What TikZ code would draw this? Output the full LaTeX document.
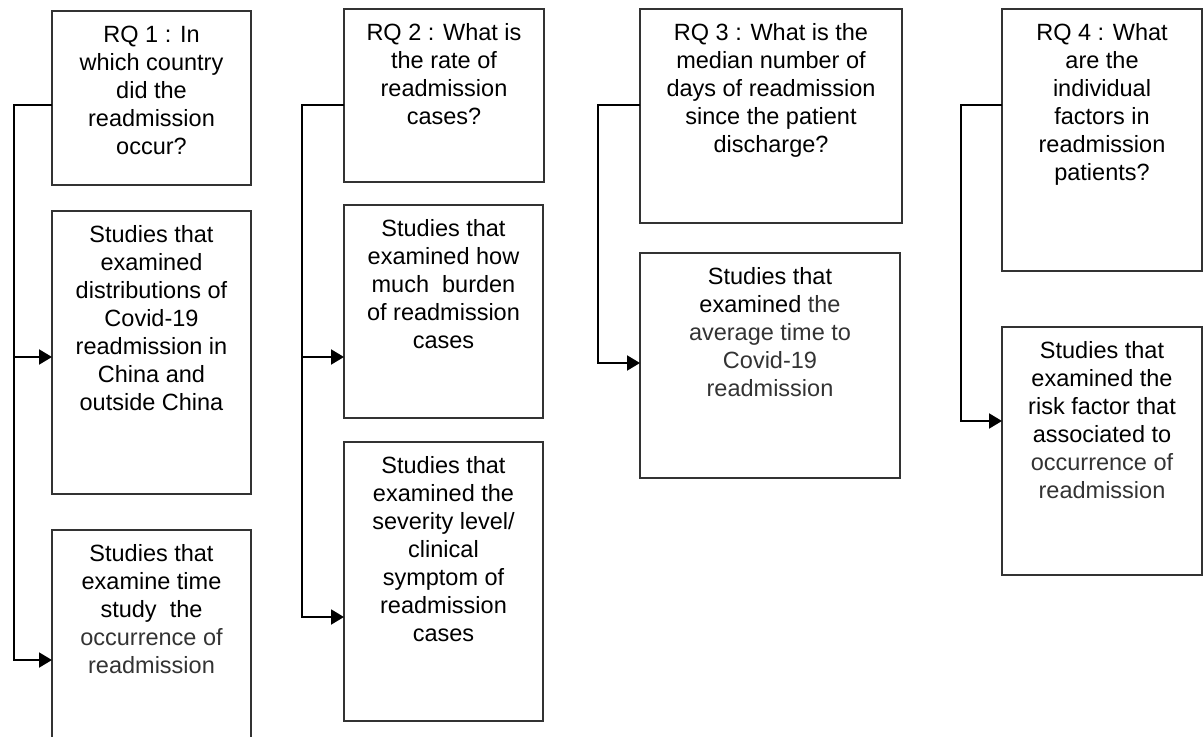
\documentclass[tikz,border=0pt]{standalone}
\usepackage{fontspec}
\setmainfont{Liberation Sans}
\usetikzlibrary{arrows.meta,positioning,calc}
\newcommand{\boxtext}[3]{\parbox[t][#2][t]{#1}{\centering\rule{0pt}{15.75pt}#3}}
\colorlet{softink}{black!80}
\tikzset{
  question/.style={rectangle, draw=black!80, line width=0.75pt, inner sep=0pt,
    outer sep=0pt, font=\fontsize{11.75}{14}\selectfont},
  study/.style={question},
  toarr/.style={-{Triangle[length=6.5pt,width=7.5pt]}, line width=1pt}
}

\begin{document}
\begin{tikzpicture}[x=0.5pt,y=-0.5pt]

\useasboundingbox (0,0) rectangle (1204,736);

%RQ 1
\node[question, anchor=north west](rq1) at (52,11) {
  \boxtext{99.5pt}{87pt}{RQ 1 : In\\ which country\\ did the\\ readmission\\ occur?}
};

\node[study, below right=13pt and 0pt of rq1.south west](st1a) {
  \boxtext{99.5pt}{141.5pt}{Studies that\\ examined\\ distributions of\\ Covid-19\\ readmission in\\ China and\\ outside China}
};

\node[study, below right=18pt and 0pt of st1a.south west](st1b) {
  \boxtext{99.5pt}{110pt}{Studies that\\ examine time\\ study\ \ the\\ \textcolor{softink}{occurrence of}\\ \textcolor{softink}{readmission}}
};

\draw[toarr] ([yshift=-47pt]rq1.north west) -- ++(-38,0) coordinate (j1)
  |- ([yshift=-73pt]st1a.north west);
\draw[toarr] (j1) |- ([yshift=-65pt]st1b.north west);

%RQ 2
\node[question, anchor=north west](rq2) at (344,9) {
  \boxtext{100pt}{86.5pt}{RQ 2 : What is\\ the rate of\\ readmission\\ cases?}
};

\node[study, below right=11.5pt and 0pt of rq2.south west](st2a) {
  \boxtext{99.5pt}{106.5pt}{Studies that\\ examined how\\ much\ \ burden\\ of readmission\\ cases}
};

\node[study, below right=12pt and 0pt of st2a.south west](st2b) {
  \boxtext{99.5pt}{139.5pt}{Studies that\\ examined the\\ severity level/\\ clinical\\ symptom of\\ readmission\\ cases}
};

\draw[toarr] ([yshift=-48pt]rq2.north west) -- ++(-42,0) coordinate (j2)
  |- ([yshift=-76pt]st2a.north west);
\draw[toarr] (j2) |- ([yshift=-87.5pt]st2b.north west);

%RQ 3
\node[question, anchor=north west](rq3) at (640,9) {
  \boxtext{131pt}{107pt}{RQ 3 : What is the\\ median number of\\ days of readmission\\ since the patient\\ discharge?}
};

\node[study, below right=15pt and 0pt of rq3.south west](st3) {
  \boxtext{130pt}{112.5pt}{Studies that\\ examined \textcolor{softink}{the}\\ \textcolor{softink}{average time to}\\ \textcolor{softink}{Covid-19}\\ \textcolor{softink}{readmission}}
};

\draw[toarr] ([yshift=-48pt]rq3.north west) -- ++(-42,0)
  |- ([yshift=-55pt]st3.north west);

%RQ 4
\node[question, anchor=north west](rq4) at (1002,9) {
  \boxtext{100pt}{131pt}{RQ 4 : What\\ are the\\ individual\\ factors in\\ readmission\\ patients?}
};

\node[study, below right=28pt and 0pt of rq4.south west](st4) {
  \boxtext{100pt}{124pt}{Studies that\\ examined the\\ risk factor that\\ associated to\\ \textcolor{softink}{occurrence of}\\ \textcolor{softink}{readmission}}
};

\draw[toarr] ([yshift=-48pt]rq4.north west) -- ++(-41,0)
  |- ([yshift=-47pt]st4.north west);

\end{tikzpicture}
\end{document}
